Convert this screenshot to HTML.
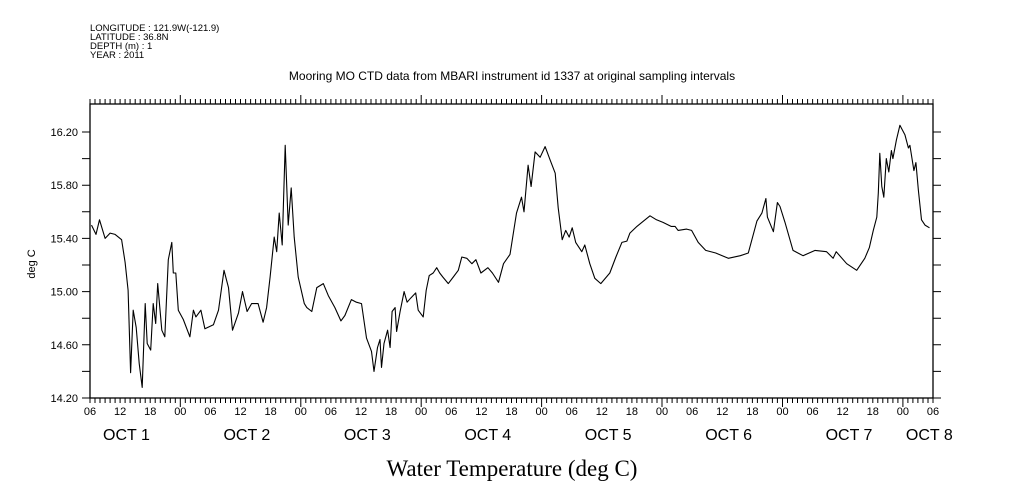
<!DOCTYPE html>
<html><head><meta charset="utf-8"><style>
html,body{margin:0;padding:0;background:#fff;}
svg{display:block;font-family:"Liberation Sans",sans-serif;}
</style></head><body>
<svg id="chart" width="1009" height="504" viewBox="0 0 1009 504" xmlns="http://www.w3.org/2000/svg">
<g font-size="9.5" fill="#000">
<text x="90" y="31">LONGITUDE : 121.9W(-121.9)</text>
<text x="90" y="40">LATITUDE : 36.8N</text>
<text x="90" y="49">DEPTH (m) : 1</text>
<text x="90" y="58">YEAR : 2011</text>
</g>
<text x="512" y="80" text-anchor="middle" font-size="12">Mooring MO CTD data from MBARI instrument id 1337 at original sampling intervals</text>
<text transform="translate(35,264) rotate(-90)" text-anchor="middle" font-size="11">deg C</text>
<text x="512" y="476" text-anchor="middle" font-size="23" font-family="Liberation Serif, serif">Water Temperature (deg C)</text>
<g id="axes"></g>
<g id="plot"></g>
</svg>
<script>
const hours = [0.3,1.2,1.9,3.0,4.0,5.0,6.3,7.0,7.6,8.1,8.6,9.2,9.8,10.4,11.0,11.4,12.1,12.6,13.1,13.5,14.3,14.9,15.6,16.3,16.6,17.1,17.6,18.6,19.9,20.6,21.1,22.1,22.9,24.6,25.6,26.7,27.6,28.4,29.6,30.4,31.3,32.2,33.5,34.5,35.2,35.9,36.7,37.2,37.7,38.3,38.9,39.5,40.1,40.7,41.5,42.7,43.2,44.2,45.2,46.5,47.5,48.8,50.0,50.8,52.1,53.1,54.1,55.1,56.1,56.6,57.3,57.8,58.1,58.6,59.3,59.8,60.2,60.8,61.1,61.8,62.6,63.2,63.9,64.9,65.4,66.4,67.0,67.6,68.4,69.1,69.7,70.3,71.4,72.4,73.4,74.1,75.1,76.1,76.9,77.9,79.3,80.2,81.4,82.4,83.7,85.0,86.0,86.5,87.3,87.9,88.7,89.7,90.7,91.7,92.7,93.3,94.1,94.8,95.5,96.1,96.8,98.0,98.6,99.6,100.6,101.8,103.6,104.8,106.0,107.0,107.6,109.0,110.3,111.6,112.9,114.2,115.8,116.6,117.2,118.9,119.9,121.2,122.7,124.7,127.2,129.6,131.2,132.9,133.9,134.7,135.0,136.2,137.0,137.5,138.5,140.1,142.1,144.5,146.8,148.1,148.7,150.8,152.8,154.4,155.3,156.1,156.8,157.1,157.4,157.8,158.2,158.7,159.2,159.7,160.0,160.7,161.4,162.4,163.1,163.4,164.2,164.6,165.1,165.7,166.4,167.3];
const temps = [15.50,15.43,15.54,15.40,15.44,15.43,15.39,15.22,15.01,14.39,14.86,14.73,14.46,14.28,14.91,14.61,14.56,14.91,14.76,15.06,14.71,14.66,15.24,15.37,15.14,15.14,14.86,14.79,14.66,14.86,14.81,14.86,14.72,14.75,14.86,15.16,15.03,14.71,14.84,15.00,14.85,14.91,14.91,14.77,14.88,15.11,15.41,15.30,15.59,15.35,16.10,15.50,15.78,15.41,15.11,14.91,14.88,14.85,15.03,15.06,14.97,14.88,14.78,14.82,14.94,14.92,14.91,14.65,14.55,14.40,14.58,14.64,14.43,14.61,14.71,14.58,14.85,14.88,14.70,14.85,15.00,14.92,14.95,14.99,14.86,14.81,15.01,15.12,15.14,15.18,15.14,15.11,15.06,15.11,15.16,15.26,15.25,15.21,15.24,15.14,15.18,15.14,15.07,15.21,15.28,15.59,15.71,15.60,15.95,15.79,16.05,16.01,16.09,15.99,15.89,15.63,15.39,15.46,15.41,15.48,15.37,15.30,15.35,15.21,15.10,15.06,15.14,15.26,15.37,15.38,15.44,15.49,15.53,15.57,15.54,15.52,15.49,15.49,15.46,15.47,15.46,15.37,15.31,15.29,15.25,15.27,15.29,15.53,15.59,15.70,15.56,15.45,15.67,15.64,15.52,15.31,15.27,15.31,15.30,15.25,15.30,15.21,15.16,15.25,15.33,15.46,15.56,15.74,16.04,15.79,15.71,16.00,15.90,16.06,16.00,16.14,16.25,16.18,16.08,16.10,15.91,15.97,15.76,15.54,15.50,15.48];
const yTickLabels = ["14.20","14.60","15.00","15.40","15.80","16.20"];
const xHourLabels = ["06","12","18","00","06","12","18","00","06","12","18","00","06","12","18","00","06","12","18","00","06","12","18","00","06","12","18","00","06"];
const dayLabels = ["OCT  1","OCT  2","OCT  3","OCT  4","OCT  5","OCT  6","OCT  7","OCT  8"];
const dayLabelHours = [2.6,26.6,50.6,74.6,98.6,122.6,146.6,162.6];

const L=90,R=933,T=104,B=398,H0=0,H1=168,V0=14.20,V1=16.4105;
const xs=h=>L+(h-H0)/(H1-H0)*(R-L);
const ys=v=>B-(v-V0)/(V1-V0)*(B-T);
const NS="http://www.w3.org/2000/svg";
const axes=document.getElementById('axes'),plot=document.getElementById('plot');
function mk(tag,attrs,parent){const e=document.createElementNS(NS,tag);for(const k in attrs)e.setAttribute(k,attrs[k]);parent.appendChild(e);return e;}

const frame=mk('rect',{x:L,y:T,width:R-L,height:B-T,fill:'none',stroke:'#000','stroke-width':1.3},axes);



let td='';
for(let h=0;h<=168;h++){
  const x=xs(h).toFixed(1);const major=((h+6)%24===0);
  const len=major?9:5;
  td+=`M${x},${T}V${T-len}M${x},${B}V${B+len}`;
}
for(let i=0;i<=10;i++){
  const y=ys(V0+i*0.2).toFixed(1);
  td+=`M${L},${y}H${L-8}M${R},${y}H${R+8}`;
}
const ticks=mk('path',{d:td,stroke:'#000','stroke-width':1,fill:'none'},axes);



yTickLabels.forEach(s=>{
  const t=mk('text',{x:L-12,y:ys(parseFloat(s))+4,'text-anchor':'end','font-size':11},axes);
  t.textContent=s;
  
  
});
xHourLabels.forEach((s,i)=>{
  const t=mk('text',{x:xs(i*6),y:415,'text-anchor':'middle','font-size':11},axes);
  t.textContent=s;
  
  
});
dayLabels.forEach((s,i)=>{
  const t=mk('text',{x:xs(dayLabelHours[i]),y:440,'font-size':16,'xml:space':'preserve'},axes);
  t.textContent=s;
  
  
});

let d='';
hours.forEach((h,i)=>{d+=(i?'L':'M')+xs(h).toFixed(1)+','+ys(temps[i]).toFixed(1);});
const line=mk('path',{d:d,fill:'none',stroke:'#000','stroke-width':1.1,'stroke-linejoin':'round'},plot);


</script>
</body></html>
